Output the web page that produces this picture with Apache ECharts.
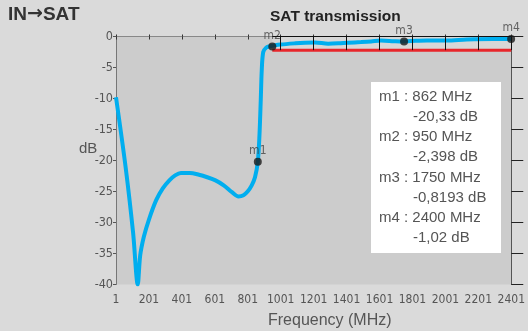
<!DOCTYPE html>
<html>
<head>
<meta charset="utf-8">
<script src="https://cdn.jsdelivr.net/npm/echarts@6/dist/echarts.min.js"></script>
<style>
  html, body { margin: 0; padding: 0; background: #dadada; }
  #chart { width: 528px; height: 331px; }
</style>
</head>
<body>
<div id="chart"></div>
<script>
// frequency (MHz) / level (dB) of the measured curve
const freq = [1, 60, 105, 133, 148, 170, 200, 245, 285, 325, 360, 395, 450, 505, 555, 605, 655, 705, 745, 775, 800, 825, 845, 862, 872, 880, 886, 895, 913, 930, 950,
  1000, 1089, 1150, 1209, 1289, 1350, 1409, 1489, 1550, 1609, 1689, 1750, 1820, 1889, 2009, 2129, 2289, 2401];
const level = [-9.8, -21.2, -31.7, -40, -35.3, -32.3, -29.6, -26.4, -24.5, -23.2, -22.4, -22.0, -22.0, -22.3, -22.7, -23.2, -24.0, -25.1, -25.8, -25.6, -25.0, -24.0, -22.7, -20.2, -16, -10.2, -5.4, -2.5, -1.8, -1.6, -1.5,
  -1.3, -1.1, -1.0, -0.95, -1.15, -1.1, -1.0, -0.9, -0.8, -0.65, -0.75, -0.8, -0.7, -0.65, -0.65, -0.5, -0.42, -0.42];

// limit line
const limitFreq = [950, 2401];
const limitLevel = -2.2;

// markers
const markNames = ['m1', 'm2', 'm3', 'm4'];
const markFreq = [862, 950, 1750, 2400];
const markLevel = [-20.2, -1.6, -0.8, -0.42];
const markText = [
  ['m1 : 862 MHz', '-20,33 dB'],
  ['m2 : 950 MHz', '-2,398 dB'],
  ['m3 : 1750 MHz', '-0,8193 dB'],
  ['m4 : 2400 MHz', '-1,02 dB']
];

const xTicks = [1, 201, 401, 601, 801, 1001, 1201, 1401, 1601, 1801, 2001, 2201, 2401];

const cond = '"DejaVu Sans Condensed", "Liberation Sans Narrow", sans-serif';
const sans = '"Liberation Sans", Arial, sans-serif';

let chart = echarts.init(document.getElementById('chart'));

// legend box lines
let boxText = [];
markText.forEach((t, i) => {
  boxText.push({ type: 'text', left: 379, top: 89 + i * 40.6,
    style: { text: t[0], font: '15px ' + sans, fill: '#555' } });
  boxText.push({ type: 'text', left: 413, top: 109 + i * 40.6,
    style: { text: t[1], font: '15px ' + sans, fill: '#555' } });
});

// band grid lines on the limit region
let bandLines = [[{ coord: [limitFreq[0], 0] }, { coord: [limitFreq[1], 0] }]];
xTicks.filter(v => v > limitFreq[0]).forEach(v => {
  bandLines.push([{ coord: [v, 0] }, { coord: [v, limitLevel] }]);
});

let option = {
  backgroundColor: '#dadada',
  animation: false,
  grid: {
    left: 116, right: 12, top: 36.5, bottom: 46.5,
    show: true, backgroundColor: '#cccccc', borderWidth: 0
  },
  xAxis: [{
    type: 'value', min: 1, max: 2401, interval: 200,
    axisLine: { lineStyle: { color: '#333', width: 1 } },
    axisTick: { show: true, length: 3, lineStyle: { color: '#333' } },
    axisLabel: {
      fontFamily: cond, fontSize: 12, color: '#555', margin: 9,
      formatter: v => String(v), showMaxLabel: true, showMinLabel: true, hideOverlap: false
    },
    splitLine: { show: false }
  }, {
    type: 'value', min: 1, max: 2401, interval: 200, position: 'top',
    axisLine: { lineStyle: { color: '#888', width: 1 } },
    axisTick: { show: true, length: 2, lineStyle: { color: '#333' } },
    axisLabel: { show: false },
    splitLine: { show: false }
  }],
  yAxis: [{
    type: 'value', min: -40, max: 0, interval: 5,
    axisLine: { show: true, lineStyle: { color: '#777' } },
    axisTick: { show: true, length: 3, lineStyle: { color: '#555' } },
    axisLabel: { fontFamily: cond, fontSize: 12.5, color: '#555', margin: 3 },
    splitLine: { show: false }
  }, {
    type: 'value', min: -40, max: 0, interval: 5, position: 'right',
    axisLine: { show: true, lineStyle: { color: '#555' } },
    axisTick: { show: true, length: 12, lineStyle: { color: '#222' } },
    axisLabel: { show: false },
    splitLine: { show: false }
  }],
  graphic: [
    { type: 'text', left: 8, top: 5,
      style: {
        text: '{a|IN}{b|\u2192}{a|SAT}',
        rich: {
          a: { font: 'bold 19px ' + sans, fill: '#333' },
          b: { font: 'bold 19px "DejaVu Sans"', fill: '#333' }
        }
      } },
    { type: 'text', left: 270, top: 9,
      style: { text: 'SAT transmission', font: 'bold 15.5px ' + sans, fill: '#222' } },
    { type: 'text', left: 79, top: 141,
      style: { text: 'dB', font: '15px ' + sans, fill: '#555' } },
    { type: 'text', left: 268, top: 313,
      style: { text: 'Frequency (MHz)', font: '16px ' + sans, fill: '#555' } },
    { type: 'rect', left: 371, top: 82, shape: { width: 130, height: 171 },
      style: { fill: '#ffffff' } },
    ...boxText
  ],
  series: [{
    type: 'line',
    data: limitFreq.map(f => [f, limitLevel]),
    symbol: 'none',
    lineStyle: { color: '#e8262b', width: 3 },
    markArea: {
      silent: true,
      itemStyle: { color: '#d7d7d7' },
      data: [[{ coord: [limitFreq[0], 0] }, { coord: [limitFreq[1], limitLevel] }]]
    },
    markLine: {
      silent: true, symbol: 'none', label: { show: false },
      lineStyle: { color: '#111', width: 1, type: 'solid' },
      data: bandLines
    },
    z: 2
  }, {
    type: 'line',
    data: freq.map((f, i) => [f, level[i]]),
    symbol: 'none',
    smooth: 0.3,
    lineStyle: { color: '#00aeef', width: 4 },
    z: 3
  }, {
    type: 'scatter',
    data: markFreq.map((f, i) => ({ value: [f, markLevel[i]], name: markNames[i] })),
    symbolSize: 8,
    itemStyle: { color: '#1a1a1a' },
    label: {
      show: true, position: 'top', distance: 1,
      formatter: p => p.name,
      fontFamily: cond, fontSize: 12, color: '#444'
    },
    z: 4
  }]
};

chart.setOption(option);
</script>
</body>
</html>
